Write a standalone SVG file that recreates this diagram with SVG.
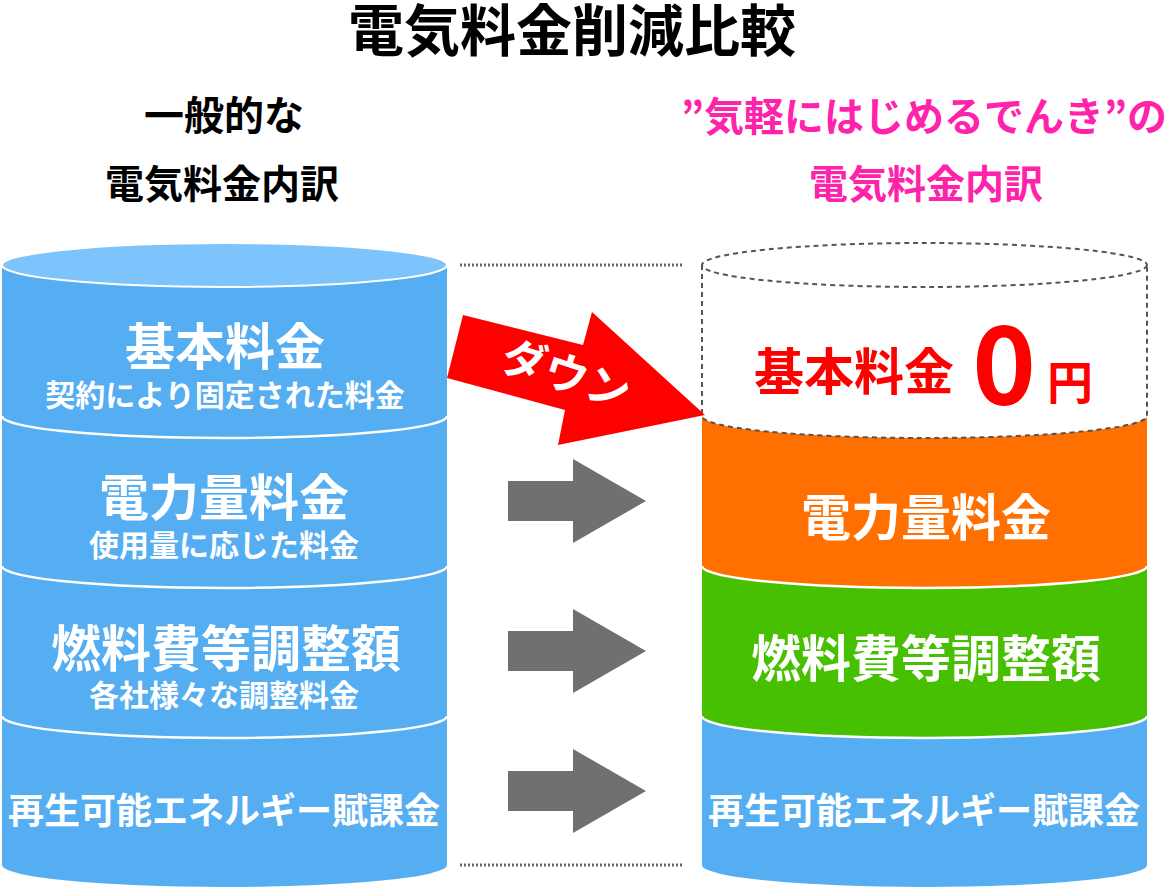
<svg xmlns="http://www.w3.org/2000/svg" width="1164" height="890" viewBox="0 0 1164 890">
<style>
text{font-family:"Noto Sans CJK JP","Noto Sans",sans-serif;font-weight:700;text-anchor:middle}
.w{fill:#fff}
.blk{fill:#000}
.pk{fill:#ff22aa}
.red{fill:#ff0000}
.div{fill:none;stroke:#fff;stroke-width:2.5}
.dash{fill:none;stroke:#555;stroke-width:2;stroke-dasharray:5 4}
.dot{stroke:#666;stroke-width:3;stroke-dasharray:2 2}
.garrow{fill:#707070}
</style>
<rect width="1164" height="890" fill="#fff"/>
<g id="title">
<text x="572" y="51" font-size="56" class="blk">電気料金削減比較</text>
</g>
<g id="heading-left">
<text x="224" y="130" font-size="40" class="blk">一般的な</text>
<text x="222" y="198" font-size="39" class="blk">電気料金内訳</text>
</g>
<g id="heading-right">
<text x="924" y="131" font-size="40" class="pk">”気軽にはじめるでんき”の</text>
<text x="926" y="198" font-size="39" class="pk">電気料金内訳</text>
</g>
<g id="left-cylinder">
<path d="M2,265 L2,865 A222.5,22 0 0 0 447,865 L447,265 Z" fill="#55adf2"/>
<ellipse cx="224.5" cy="265" rx="222.5" ry="22" fill="#7dc4fd" stroke="#fff" stroke-width="2"/>
<path class="div" d="M2,416 A222.5,22 0 0 0 447,416"/>
<path class="div" d="M2,566 A222.5,22 0 0 0 447,566"/>
<path class="div" d="M2,716 A222.5,22 0 0 0 447,716"/>
</g>
<g id="left-kihon">
<text x="225" y="365" font-size="50" class="w">基本料金</text>
<text x="225" y="406" font-size="30" class="w">契約により固定された料金</text>
</g>
<g id="left-denryoku">
<text x="224" y="516" font-size="50" class="w">電力量料金</text>
<text x="224" y="556" font-size="30" class="w">使用量に応じた料金</text>
</g>
<g id="left-nenryo">
<text x="226" y="667" font-size="50" class="w">燃料費等調整額</text>
<text x="224" y="706" font-size="30" class="w">各社様々な調整料金</text>
</g>
<g id="left-saisei">
<text x="224" y="824" font-size="36" class="w">再生可能エネルギー賦課金</text>
</g>
<g id="right-cylinder">
<path d="M702,716 L702,865 A222.5,22 0 0 0 1147,865 L1147,716 Z" fill="#55adf2"/>
<path d="M702,566 L702,716 A222.5,22 0 0 0 1147,716 L1147,566 Z" fill="#46c000"/>
<path d="M702,416 A222.5,22 0 0 0 1147,416 L1147,566 A222.5,22 0 0 1 702,566 Z" fill="#ff7000"/>
<path d="M702,566 A222.5,22 0 0 0 1147,566" class="div"/>
<path d="M702,716 A222.5,22 0 0 0 1147,716" class="div"/>
<ellipse cx="924.5" cy="265" rx="222.5" ry="22" class="dash"/>
<path d="M702,265 L702,416 A222.5,22 0 0 0 1147,416 L1147,265" class="dash"/>
</g>
<g id="right-kihon">
<text x="854" y="390" font-size="50" class="red">基本料金</text>
<text x="1004" y="404" font-size="108" class="red" font-family="'Noto Sans',sans-serif">0</text>
<text x="1070" y="399" font-size="46" class="red">円</text>
</g>
<g id="right-denryoku">
<text x="926" y="536" font-size="50" class="w">電力量料金</text>
</g>
<g id="right-nenryo">
<text x="926" y="677" font-size="50" class="w">燃料費等調整額</text>
</g>
<g id="right-saisei">
<text x="924" y="824" font-size="36" class="w">再生可能エネルギー賦課金</text>
</g>
<g id="connectors">
<line class="dot" x1="460" y1="265" x2="683" y2="265"/>
<line class="dot" x1="460" y1="865" x2="683" y2="865"/>
<polygon fill="#ff0000" points="463,315 583,345 592,312 705,415 558,445 565,410 447,378"/>
<text x="566" y="390" font-size="44" class="w" transform="rotate(18 566 375)">ダウン</text>
<polygon class="garrow" points="508,481 573,481 573,459 646,501 573,543 573,521 508,521"/>
<polygon class="garrow" points="508,631 573,631 573,609 646,651 573,693 573,671 508,671"/>
<polygon class="garrow" points="508,771 573,771 573,749 646,791 573,833 573,811 508,811"/>
</g>
</svg>
